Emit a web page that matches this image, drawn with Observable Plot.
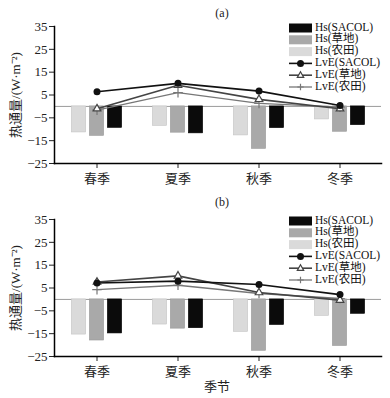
<!DOCTYPE html>
<html><head><meta charset="utf-8">
<script src="https://cdn.jsdelivr.net/npm/d3@7"></script>
<script src="https://cdn.jsdelivr.net/npm/@observablehq/plot@0.6"></script>
<style>
body{margin:0;background:#fff;}
#wrap{position:relative;width:390px;height:398px;overflow:hidden;}
#wrap svg{position:absolute;left:0;}
</style></head><body><div id="wrap"></div>
<script>
const seasons = ["春季","夏季","秋季","冬季"];
const yTicks = [-25,-15,-5,5,15,25,35];
const legendBars = ["Hs(SACOL)","Hs(草地)","Hs(农田)"];
const legendLines = ["LvE(SACOL)","LvE(草地)","LvE(农田)"];

// Panel (a)
const hsFarmA  = [-11.4, -8.5, -12.7, -5.7];
const hsGrassA = [-12.9, -11.5, -18.6, -11.1];
const hsSacolA = [-9.4, -11.8, -9.5, -8.2];
const lveSacolA = [6.4, 10.1, 6.7, 0.4];
const lveGrassA = [-1.0, 9.3, 3.1, -1.0];
const lveFarmA  = [-1.6, 6.0, 1.3, -0.3];

// Panel (b)
const hsFarmB  = [-15.4, -11.0, -14.2, -7.2];
const hsGrassB = [-18.0, -12.8, -22.5, -20.4];
const hsSacolB = [-14.9, -12.6, -11.2, -6.3];
const lveSacolB = [7.2, 8.0, 6.5, 2.1];
const lveGrassB = [7.6, 10.3, 3.0, -0.3];
const lveFarmB  = [4.3, 6.2, 2.6, 0.4];

const C = {sacol:"#0b0b0b", grass:"#a9a9a9", farm:"#dadada",
           lSacol:"#111", lGrass:"#444", lFarm:"#777"};
const FONT = "'Liberation Serif','Noto Sans CJK SC',serif";

function rows(vals){ return seasons.map((s,i)=>({season:s, value:vals[i]})); }

function panel(d, o){
  const bw = 15, inset = (327/4 - bw)/2;
  const barOpts = (fill, dx, stroke) => ({x:"season", y:"value", fill, stroke, strokeWidth:0.6,
    insetLeft:inset, insetRight:inset, dx});
  const svg = Plot.plot({
    width:390, height:o.height,
    marginLeft:54, marginRight:9, marginTop:o.top, marginBottom:o.bottom,
    style:{fontFamily:FONT, fontSize:"12px", color:"#222", background:"#fff"},
    x:{domain:seasons, padding:0},
    y:{domain:[-25,35]},
    marks:[
      Plot.ruleY([0], {stroke:"#9a9a9a", strokeWidth:1}),
      Plot.barY(rows(d.hsF), barOpts(C.farm, -18, "#c4c4c4")),
      Plot.barY(rows(d.hsG), barOpts(C.grass, 0, "#999")),
      Plot.barY(rows(d.hsS), barOpts(C.sacol, 18, "#000")),
      Plot.line(rows(d.lF), {x:"season", y:"value", stroke:C.lFarm, strokeWidth:1.3}),
      Plot.dot(rows(d.lF), {x:"season", y:"value", symbol:"plus", r:3.2, stroke:C.lFarm, strokeWidth:1.2}),
      Plot.line(rows(d.lG), {x:"season", y:"value", stroke:C.lGrass, strokeWidth:1.6}),
      Plot.line(rows(d.lS), {x:"season", y:"value", stroke:C.lSacol, strokeWidth:1.6}),
      Plot.dot(rows(d.lG), {x:"season", y:"value", symbol:"triangle", r:2.8, fill:"#fff", stroke:C.lGrass, strokeWidth:1.2}),
      Plot.dot(rows(d.lS), {x:"season", y:"value", r:3.5, fill:C.lSacol}),
      Plot.axisY({ticks:yTicks, tickSize:5, tickPadding:2, fontSize:13,
        label:"热通量/(W·m⁻²)", labelAnchor:"center", labelOffset:44, labelArrow:"none"}),
      Plot.axisX({tickSize:5, tickPadding:5, fontSize:13, label:null}),
      Plot.frame({anchor:"left", stroke:"#000", strokeWidth:1.5}),
      Plot.frame({anchor:"bottom", stroke:"#000", strokeWidth:1.5})
    ]
  });
  svg.style.top = o.offset + "px";
  const s = d3.select(svg);
  s.append("text").attr("x",222).attr("y",o.titleY).attr("text-anchor","middle")
    .attr("dominant-baseline","middle").attr("font-size",12).attr("font-family",FONT).text(o.title);
  const lx = 289, lw = 23, tx = 315, step = 11.8, fs = 11.5;
  const fills = [C.sacol, C.grass, C.farm];
  const g = s.append("g").attr("text-anchor","start");
  legendBars.forEach((t,i)=>{
    const y = o.top + 2 + step*i;
    g.append("rect").attr("x",lx).attr("y",y-4.5).attr("width",lw).attr("height",9).attr("fill",fills[i]);
    g.append("text").attr("x",tx).attr("y",y).attr("dominant-baseline","middle").attr("text-anchor","start")
      .attr("font-size",fs).attr("font-family",FONT).attr("fill","#111").text(t);
  });
  const strokes = [C.lSacol, C.lGrass, C.lFarm];
  legendLines.forEach((t,i)=>{
    const y = o.top + 2 + step*(i+3);
    const cx = lx + lw/2;
    g.append("line").attr("x1",lx).attr("x2",lx+lw).attr("y1",y).attr("y2",y)
      .attr("stroke",strokes[i]).attr("stroke-width", i===2?1.3:1.6);
    if(i===0) g.append("circle").attr("cx",cx).attr("cy",y).attr("r",3.5).attr("fill",C.lSacol);
    if(i===1) g.append("path").attr("d",`M${cx},${y-3.5}L${cx+3.2},${y+2.2}L${cx-3.2},${y+2.2}Z`)
      .attr("fill","#fff").attr("stroke",C.lGrass).attr("stroke-width",1.2);
    if(i===2) g.append("path").attr("d",`M${cx-3.2},${y}H${cx+3.2}M${cx},${y-3.2}V${y+3.2}`)
      .attr("stroke",C.lFarm).attr("stroke-width",1.2);
    g.append("text").attr("x",tx).attr("y",y).attr("dominant-baseline","middle").attr("text-anchor","start")
      .attr("font-size",fs).attr("font-family",FONT).attr("fill","#111").text(t);
  });
  if(o.xlabel){
    s.append("text").attr("x",217).attr("y",o.height-10).attr("text-anchor","middle")
      .attr("dominant-baseline","middle").attr("font-size",13).attr("font-family",FONT).text(o.xlabel);
  }
  return svg;
}

const wrap = document.getElementById("wrap");
wrap.append(panel({hsF:hsFarmA, hsG:hsGrassA, hsS:hsSacolA, lS:lveSacolA, lG:lveGrassA, lF:lveFarmA},
  {height:190, top:26, bottom:27, offset:0, title:"(a)", titleY:14}));
wrap.append(panel({hsF:hsFarmB, hsG:hsGrassB, hsS:hsSacolB, lS:lveSacolB, lG:lveGrassB, lF:lveFarmB},
  {height:208, top:29, bottom:42, offset:190, title:"(b)", titleY:13, xlabel:"季节"}));
</script></body></html>
